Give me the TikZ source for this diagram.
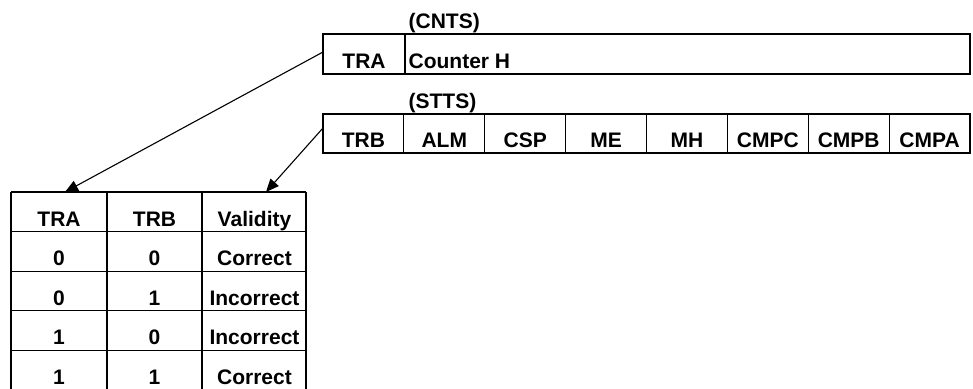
\documentclass[tikz,border=0pt]{standalone}
\usepackage{fontspec}
\setmainfont{Liberation Sans}
\usetikzlibrary{arrows.meta,calc,positioning}

\begin{document}
\begin{tikzpicture}[x=1pt,y=-1pt,line width=1.2pt,
    lbl/.style={font=\fontsize{21}{21}\selectfont\bfseries,inner sep=0pt,anchor=base},
    lblw/.style={lbl,anchor=base west},
    ptr/.style={-{Triangle[length=13pt,width=11pt]},line width=1.1pt}]
  \useasboundingbox (0,0) rectangle (973,388);
  \def\l{323}
  \def\r{970}
  \def\w{80.875}
  % counter register
  \draw (\l,34) rectangle (\r,74);
  \draw (405,34) -- (405,74);
  \node[lblw] (cnts) at (408,28) {(CNTS)};
  \node[lbl] (cntsTRA) at (364,68) {TRA};
  \node[lblw] (cntsH) at (408,68) {Counter H};
  % status register
  \draw (\l,114) rectangle (\r,153);
  \foreach \x in {1,...,7}
    \draw ({\l+\w*\x},114) -- ({\l+\w*\x},153);
  \node[lblw] (stts) at (408,108) {(STTS)};
  \foreach \t [count=\i] in {TRB,ALM,CSP,ME,MH,CMPC,CMPB,CMPA}
    \node[lbl] (stts\i) at ({\l+\w*(\i-0.5)},147) {\t};
  % validity table
  \def\h{39.6}
  \foreach \k in {0,...,5}
    \draw (11,{192+\h*\k}) -- (306,{192+\h*\k});
  \foreach \x in {11,107,202,306}
    \draw (\x,192) -- (\x,{192+5*\h});
  \node[lbl] (hTRA) at (59,226) {TRA};
  \node[lbl] (hTRB) at (154.5,226) {TRB};
  \node[lbl] (hVal) at (254.5,226) {Validity};
  \foreach \a/\b/\v [count=\i] in {0/0/Correct,0/1/Incorrect,1/0/Incorrect,1/1/Correct}
  {
    \node[lbl] (ra\i) at (59,{226+\h*\i}) {\a};
    \node[lbl] (rb\i) at (154.5,{226+\h*\i}) {\b};
    \node[lbl] (rv\i) at (254.5,{226+\h*\i}) {\v};
  }
  % pointers
  \coordinate (fromA) at (\l,52);
  \coordinate (fromB) at (\l,128);
  \coordinate (toA) at (65,192);
  \coordinate (toB) at (266,192);
  \draw[ptr] (fromA) -- (toA);
  \draw[ptr] (fromB) -- (toB);
\end{tikzpicture}
\end{document}
